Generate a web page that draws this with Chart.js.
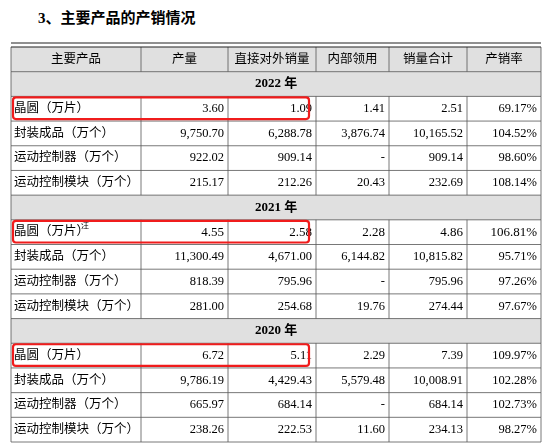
<!DOCTYPE html><html><head><meta charset="utf-8">
<script src="https://cdn.jsdelivr.net/npm/chart.js@4"></script>
<style>body{margin:0;background:#fff}#t{position:absolute;left:38px;top:6px;font:bold 15px "Liberation Serif","Noto Sans CJK SC";}</style>
</head><body><div id="t">3、主要产品的产销情况</div>
<div style="position:absolute;left:0;top:0;width:551px;height:445px"><canvas id="c"></canvas></div>
<script>
const headers=["主要产品","产量","直接对外销量","内部领用","销量合计","产销率"];
const years=["2022 年","2021 年","2020 年"];
const products=["晶圆（万片）","封装成品（万个）","运动控制器（万个）","运动控制模块（万个）"];
const v2022=[["3.60","1.09","1.41","2.51","69.17%"],["9,750.70","6,288.78","3,876.74","10,165.52","104.52%"],["922.02","909.14","-","909.14","98.60%"],["215.17","212.26","20.43","232.69","108.14%"]];
const v2021=[["4.55","2.58","2.28","4.86","106.81%"],["11,300.49","4,671.00","6,144.82","10,815.82","95.71%"],["818.39","795.96","-","795.96","97.26%"],["281.00","254.68","19.76","274.44","97.67%"]];
const v2020=[["6.72","5.11","2.29","7.39","109.97%"],["9,786.19","4,429.43","5,579.48","10,008.91","102.28%"],["665.97","684.14","-","684.14","102.73%"],["238.26","222.53","11.60","234.13","98.27%"]];
const colW=[130,87,88,73,78,74];
const edges=[0];colW.forEach(w=>edges.push(edges[edges.length-1]+w));
const rows=[{t:'h'}];
[v2022,v2021,v2020].forEach((vals,i)=>{rows.push({t:'y',y:years[i]});vals.forEach((r,j)=>rows.push({t:'d',p:products[j],v:r,note:i==1&&j==0}));});
const F='"Liberation Serif","Noto Sans CJK SC"';
const plug={id:'tbl',afterDraw(ch){
 const c=ch.ctx,x=ch.scales.x,y=ch.scales.y;
 const X=i=>x.getPixelForValue(edges[i]),Y=i=>y.getPixelForValue(i);
 c.save();
 rows.forEach((r,i)=>{const y0=Y(i),y1=Y(i+1),ym=(y0+y1)/2;
  if(r.t!='d'){c.fillStyle='#e0e0e0';c.fillRect(X(0),y0,X(6)-X(0),y1-y0);}
  c.fillStyle='#000';c.textBaseline='middle';
  if(r.t=='h'){c.font='12.5px '+F;c.textAlign='center';headers.forEach((h,k)=>c.fillText(h,(X(k)+X(k+1))/2,ym));}
  else if(r.t=='y'){c.font='bold 13px '+F;c.textAlign='center';c.fillText(r.y,(X(0)+X(6))/2,ym);}
  else{c.font='12.5px '+F;c.textAlign='left';c.fillText(r.p,X(0)+3,ym);
   if(r.note){c.font='8px '+F;c.fillText('注',X(0)+70,ym-6);c.font='13px '+F;}
   c.textAlign='right';r.v.forEach((v,k)=>c.fillText(v,X(k+2)-4,ym));}
 });
 c.strokeStyle='#555';c.lineWidth=0.8;
 rows.forEach((r,i)=>{c.beginPath();c.moveTo(X(0),Y(i+1));c.lineTo(X(6),Y(i+1));c.stroke();
  const ks=r.t=='y'?[0,6]:[0,1,2,3,4,5,6];ks.forEach(k=>{c.beginPath();c.moveTo(X(k),Y(i));c.lineTo(X(k),Y(i+1));c.stroke();});});
 c.strokeStyle='#222';c.lineWidth=1.2;[-4,0].forEach(o=>{c.beginPath();c.moveTo(X(0),Y(0)+o);c.lineTo(X(6),Y(0)+o);c.stroke();});
 c.strokeStyle='#f01c1c';c.lineWidth=2.2;
 rows.forEach((r,i)=>{if(r.t=='d'&&r.p==products[0]){const y0=Y(i),y1=Y(i+1);c.beginPath();c.roundRect(X(0)+2,y0+1,X(3)-X(0)-9,y1-y0-3,3);c.stroke();}});
 c.restore();}};
new Chart(document.getElementById('c'),{type:'scatter',data:{datasets:[{data:[]}]},
 options:{responsive:true,maintainAspectRatio:false,animation:false,layout:{padding:{left:11,right:10,top:47,bottom:3}},
 plugins:{legend:{display:false},tooltip:{enabled:false}},
 scales:{x:{type:'linear',min:0,max:edges[6],display:false},y:{type:'linear',min:0,max:rows.length,reverse:true,display:false}}},plugins:[plug]});
</script></body></html>
